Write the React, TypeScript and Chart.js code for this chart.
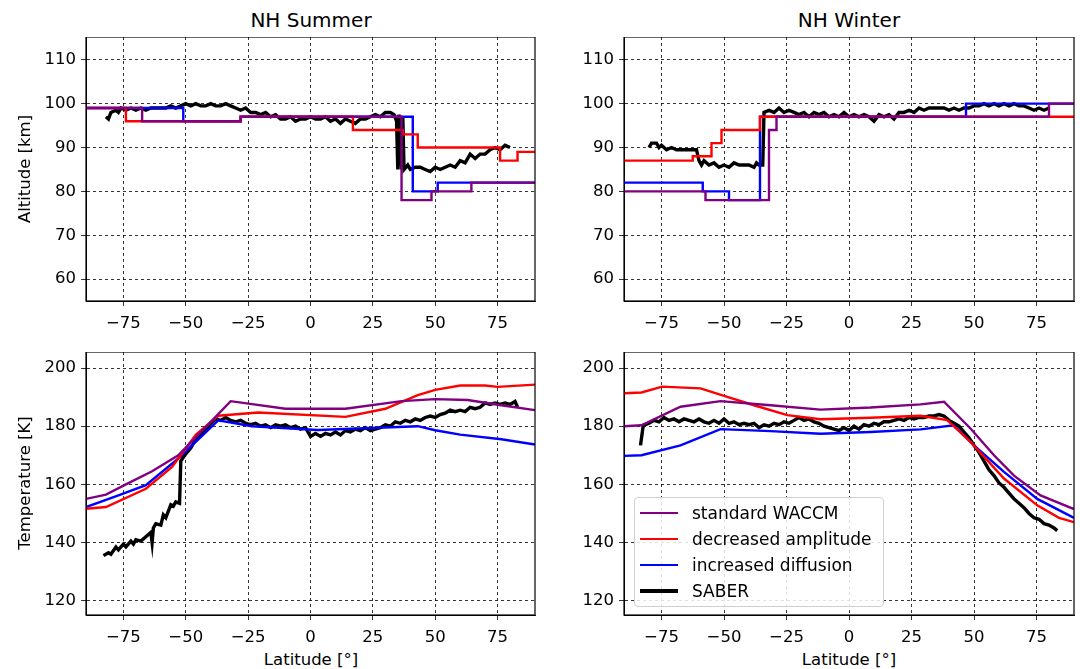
import React, { useEffect, useRef } from "react";
import { Chart, registerables } from "chart.js";
Chart.register(...registerables);

const LAT_TICKS = [-75, -50, -25, 0, 25, 50, 75];
const ALT_TICKS = [60, 70, 80, 90, 100, 110];
const TEMP_TICKS = [120, 140, 160, 180, 200];

// NH Summer altitude (step lines)
const sumAltStdLat = [-90, -67.5, -67.5, -28, -28, 36.5, 36.5, 48.5, 48.5, 64.5, 64.5, 90];
const sumAltStdVal = [99, 99, 96, 96, 97, 97, 78, 78, 80, 80, 82, 82];
const sumAltDecLat = [-90, -74, -74, -28, -28, 17, 17, 37, 37, 43, 43, 76, 76, 83, 83, 90];
const sumAltDecVal = [99, 99, 96, 96, 97, 97, 94, 94, 93, 93, 90, 90, 87, 87, 89, 89];
const sumAltIncLat = [-90, -51, -51, -28, -28, 41, 41, 51, 51, 90];
const sumAltIncVal = [99, 99, 96, 96, 97, 97, 80, 80, 82, 82];
const sumAltSabLat = [-82, -81, -80, -78, -77, -76, -74, -72, -70, -68, -66, -64, -62, -60, -58, -56, -54, -52, -50, -48, -46, -44, -42, -40, -38, -36, -34, -32, -30, -28, -26, -24, -22, -20, -18, -16, -14, -12, -10, -8, -6, -4, -2, 0, 2, 4, 6, 8, 10, 12, 14, 16, 18, 20, 22, 24, 26, 28, 30, 32, 33.5, 34.5, 35, 35.5, 36.5, 37, 37.5, 39, 40, 42, 44, 46, 48, 50, 52, 54, 56, 58, 60, 62, 64, 66, 68, 70, 72, 74, 76, 78, 80];
const sumAltSabVal = [97, 96.5, 98, 98.5, 98, 99, 98.5, 99, 98.5, 99, 98.5, 99, 99, 99, 99, 99.5, 99, 99.5, 100, 99.5, 100, 99.5, 99.5, 100, 99.5, 99.5, 100, 99.5, 99, 98.5, 99, 98, 98, 97.5, 98, 97, 97.5, 96.5, 96.5, 97, 96, 96.5, 96.5, 97, 96.5, 96.5, 97, 96, 96.5, 95.5, 96.5, 96, 95.5, 96.5, 96.5, 97, 97.5, 97, 98, 98, 97.5, 96, 85, 97.5, 85, 97, 85, 86, 85, 85.5, 85.5, 85, 84.5, 85.5, 85, 85.5, 86, 85.5, 87, 86.5, 88.5, 87.5, 88.5, 88.5, 89.5, 90, 89.5, 90.5, 90];

// NH Winter altitude
const winAltStdLat = [-90, -57.4, -57.4, -32, -32, -29, -29, 80, 80, 90];
const winAltStdVal = [80, 80, 78, 78, 94, 94, 97, 97, 100, 100];
const winAltDecLat = [-90, -62.5, -62.5, -55, -55, -51, -51, -35.6, -35.6, 90];
const winAltDecVal = [87, 87, 88, 88, 91, 91, 94, 94, 97, 97];
const winAltIncLat = [-90, -58.5, -58.5, -48, -48, -35.6, -35.6, 46.8, 46.8, 90];
const winAltIncVal = [82, 82, 80, 80, 78, 78, 97, 97, 100, 100];
const winAltSabLat = [-80, -79, -77, -76, -75, -73, -71, -69, -67, -65, -63, -61, -60, -59, -58, -56, -54, -52, -50, -48, -46, -44, -42, -40, -38, -37, -36, -34.5, -34, -32, -30, -28, -26, -24, -22, -20, -18, -16, -14, -12, -10, -8, -6, -4, -2, 0, 2, 4, 6, 8, 10, 12, 14, 16, 18, 20, 22, 24, 26, 28, 30, 32, 34, 36, 38, 40, 42, 44, 46, 48, 50, 52, 54, 56, 58, 60, 62, 64, 66, 68, 70, 72, 74, 76, 78, 80];
const winAltSabVal = [90, 91, 91, 90, 90.5, 89.5, 90, 89.5, 89.5, 89.5, 89.5, 89.5, 87, 86, 87, 86, 86.5, 85.5, 86, 85.5, 86.5, 86, 86, 86, 85.5, 86.5, 86, 86, 98, 98.5, 98, 99, 98, 98.5, 98, 97.5, 98, 97, 98, 97.5, 98, 97, 97.5, 97, 98, 97, 97.5, 97, 97.5, 97, 96, 97.5, 97, 97.5, 96.5, 98, 98, 98.5, 98, 99, 98.5, 99, 99, 99, 99, 98.5, 99, 98.5, 99, 99, 99.5, 99.5, 100, 99.5, 100, 99.5, 100, 99.5, 100, 99.5, 99.5, 99, 98.5, 99, 98.5, 99];

// NH Summer temperature
const sumTStdLat = [-90, -82, -74, -63.5, -53, -32, -10, 14, 36.5, 50, 63, 76.5, 90];
const sumTStdVal = [155, 156.5, 160, 164.5, 170, 188.6, 186, 186, 188.6, 189.3, 189, 187.2, 185.5];
const sumTDecLat = [-90, -82, -66, -55.5, -46, -37, -21, 14, 30, 43, 50, 60, 70, 75, 90];
const sumTDecVal = [151.6, 152.2, 158.5, 166, 177, 183.6, 184.7, 183.2, 186, 190.7, 192.5, 194, 194, 193.5, 194.3];
const sumTIncLat = [-90, -77, -66, -53, -37, -23.5, 3, 43, 50, 60, 76.5, 90];
const sumTIncVal = [152.2, 156.2, 159.7, 168.9, 182, 180, 178.7, 180, 178.6, 177.1, 175.5, 173.7];
const sumTSabLat = [-83, -81, -80, -78, -77, -75, -74, -72, -71, -70, -68, -66, -64, -63.5, -63, -62, -60, -59, -58, -56, -55, -54, -52.5, -52, -50, -48, -46, -44, -42, -40, -38, -36, -34, -32, -30, -28, -26, -24, -22, -20, -18, -16, -14, -12, -10, -8, -6, -4, -2, 0, 2, 4, 6, 8, 10, 12, 14, 16, 18, 20, 22, 24, 26, 28, 30, 32, 34, 36, 38, 40, 42, 44, 46, 48, 50, 52, 54, 56, 58, 60, 62, 64, 66, 68, 70, 72, 74, 76, 78, 80, 82, 83];
const sumTSabVal = [135.5, 136.5, 136, 138.5, 137.5, 139.5, 138.5, 140.5, 139.5, 141, 140.5, 142, 143.5, 140, 145, 146.5, 146, 149.5, 148.5, 153, 152.5, 154, 153.5, 168, 170.5, 172.5, 175.5, 177, 179, 181, 182.5, 182, 183, 182, 181.5, 182, 181, 180.5, 181, 180, 180.5, 179.5, 180.5, 180, 180.5, 179.5, 180, 179, 179.5, 176.5, 177.5, 176.5, 177.5, 177, 178, 177, 178.5, 178, 179, 178.5, 179.5, 178.5, 179, 179.5, 180.5, 180, 181.5, 181, 182, 181.5, 182.5, 182, 183, 183.5, 183, 184, 184.5, 185.5, 185, 185.5, 185, 186.5, 186, 186.5, 188, 187.5, 188, 187.5, 188, 187.5, 188.5, 186.5];

// NH Winter temperature
const winTStdLat = [-90, -83, -67.4, -51.4, -31.4, -11.4, 8.6, 28.6, 38, 48.6, 58, 66, 76.6, 90];
const winTStdVal = [180, 180.3, 186.7, 188.6, 187.2, 185.7, 186.4, 187.5, 188.4, 179.2, 170, 163, 156.2, 151.5];
const winTDecLat = [-90, -83, -74.7, -59.4, -48.7, -38, -24.7, -11.4, 8.6, 28.6, 39.3, 48.6, 62, 75.3, 84, 90];
const winTDecVal = [191.3, 191.6, 193.6, 193, 190.1, 187.2, 183.8, 182.4, 182.9, 183.6, 182.1, 174.6, 162, 152.8, 148.5, 147];
const winTIncLat = [-90, -83, -67.4, -51.4, -31.4, -11.4, 8.6, 28.6, 41.9, 50, 62, 75.3, 90];
const winTIncVal = [169.8, 170, 173.4, 179, 178.3, 177.4, 178, 178.9, 180.3, 173.4, 164.3, 155, 148.5];
const winTSabLat = [-83.4, -82.3, -80, -78, -76, -74, -72, -70, -68, -66, -64, -62, -60, -58, -56, -54, -52, -50, -48, -46, -44, -42, -40, -38, -36, -34, -32, -30, -28, -26, -24, -22, -20, -18, -16, -14, -12, -10, -8, -6, -4, -2, 0, 2, 4, 6, 8, 10, 12, 14, 16, 18, 20, 22, 24, 26, 28, 30, 32, 34, 36, 38, 40, 42, 44, 46, 48, 50, 52, 54, 56, 58, 60, 62, 64, 66, 68, 70, 72, 74, 76, 78, 80, 82, 83.3];
const winTSabVal = [173.4, 180.3, 181, 182, 181.5, 183, 182, 182.5, 181.5, 182.5, 182, 181.5, 182.5, 181.5, 181, 182, 181, 182.5, 181, 181.5, 180.5, 181, 180.5, 181, 179.5, 180.5, 180, 181, 180.5, 181.5, 181, 182, 183, 182, 182.5, 181.5, 181, 180, 179.5, 179, 178.5, 179.5, 178.5, 180, 179, 180.5, 180, 181, 180.5, 181.5, 181.5, 182, 182.5, 182, 183, 182.5, 183, 183, 183.5, 183.5, 184, 183.5, 182, 181, 180, 178, 176, 173.4, 171, 168, 165, 163, 160.5, 159, 157, 155, 153.5, 152, 150, 148.5, 148, 146.5, 146, 145, 144.1];

const STD = "#800080";
const DEC = "#ff0000";
const INC = "#0000ff";
const SAB = "#000000";
const FONT = "'DejaVu Sans', sans-serif";

const pts = (xs: number[], ys: number[]) => xs.map((x, i) => ({ x, y: ys[i] }));

const framePlugin = {
  id: "frame",
  afterDraw(chart: any) {
    const { ctx, chartArea: a } = chart;
    ctx.save();
    ctx.strokeStyle = "#000";
    ctx.lineWidth = 1.2;
    ctx.setLineDash([]);
    ctx.strokeRect(a.left, a.top, a.right - a.left, a.bottom - a.top);
    ctx.restore();
  },
};

type Panel = {
  series: { lat: number[]; val: number[]; color: string; width: number }[];
  yMin: number;
  yMax: number;
  yTicks: number[];
  yWidth: number;
  xHeight: number;
  padRight: number;
};

function ChartPanel({ p, style }: { p: Panel; style: React.CSSProperties }) {
  const ref = useRef<HTMLCanvasElement>(null);
  useEffect(() => {
    const tickFont = { family: FONT, size: 16.5 };
    const grid = { color: "#000", lineWidth: 0.8, tickColor: "#000", tickLength: 5, drawOnChartArea: true };
    const chart = new Chart(ref.current!, {
      type: "line",
      data: {
        datasets: p.series.map((s) => ({
          data: pts(s.lat, s.val),
          borderColor: s.color,
          borderWidth: s.width,
          pointRadius: 0,
          tension: 0,
          fill: false,
        })),
      },
      options: {
        animation: false,
        responsive: false,
        parsing: false as any,
        layout: { padding: { right: p.padRight, top: 0, left: 0, bottom: 0 } },
        plugins: { legend: { display: false }, tooltip: { enabled: false } },
        scales: {
          x: {
            type: "linear",
            min: -90,
            max: 90,
            grid,
            border: { dash: [3, 3], color: "#000" },
            ticks: { color: "#000", font: tickFont, padding: 8, maxRotation: 0, callback: (v: any) => (v < 0 ? "\u2212" + Math.abs(v) : String(v)) },
            afterBuildTicks: (s: any) => { s.ticks = LAT_TICKS.map((v) => ({ value: v })); },
            afterFit: (s: any) => { s.height = p.xHeight; s.paddingLeft = 0; s.paddingRight = 0; },
          },
          y: {
            type: "linear",
            min: p.yMin,
            max: p.yMax,
            grid,
            border: { dash: [3, 3], color: "#000" },
            ticks: { color: "#000", font: tickFont, padding: 5 },
            afterBuildTicks: (s: any) => { s.ticks = p.yTicks.map((v) => ({ value: v })); },
            afterFit: (s: any) => { s.width = p.yWidth; s.paddingTop = 0; s.paddingBottom = 0; },
          },
        },
      } as any,
      plugins: [framePlugin],
    });
    return () => chart.destroy();
  }, []);
  const w = style.width as number;
  const h = style.height as number;
  return <canvas ref={ref} width={w} height={h} style={{ position: "absolute", ...style }} />;
}

export default function App() {
  const altCommon = { yMin: 55, yMax: 115.2, yTicks: ALT_TICKS, xHeight: 30 };
  const tCommon = { yMin: 115.1, yMax: 205.5, yTicks: TEMP_TICKS, xHeight: 30 };
  const M = 2.4;
  const S = 3.4;
  const tl: Panel = {
    ...altCommon, yWidth: 86, padRight: 10,
    series: [
      { lat: sumAltStdLat, val: sumAltStdVal, color: STD, width: M },
      { lat: sumAltDecLat, val: sumAltDecVal, color: DEC, width: M },
      { lat: sumAltIncLat, val: sumAltIncVal, color: INC, width: M },
      { lat: sumAltSabLat, val: sumAltSabVal, color: SAB, width: S },
    ],
  };
  const tr: Panel = {
    ...altCommon, yWidth: 84, padRight: 6,
    series: [
      { lat: winAltStdLat, val: winAltStdVal, color: STD, width: M },
      { lat: winAltDecLat, val: winAltDecVal, color: DEC, width: M },
      { lat: winAltIncLat, val: winAltIncVal, color: INC, width: M },
      { lat: winAltSabLat, val: winAltSabVal, color: SAB, width: S },
    ],
  };
  const bl: Panel = {
    ...tCommon, yWidth: 86, padRight: 10,
    series: [
      { lat: sumTStdLat, val: sumTStdVal, color: STD, width: M },
      { lat: sumTDecLat, val: sumTDecVal, color: DEC, width: M },
      { lat: sumTIncLat, val: sumTIncVal, color: INC, width: M },
      { lat: sumTSabLat, val: sumTSabVal, color: SAB, width: S },
    ],
  };
  const br: Panel = {
    ...tCommon, yWidth: 84, padRight: 6,
    series: [
      { lat: winTStdLat, val: winTStdVal, color: STD, width: M },
      { lat: winTDecLat, val: winTDecVal, color: DEC, width: M },
      { lat: winTIncLat, val: winTIncVal, color: INC, width: M },
      { lat: winTSabLat, val: winTSabVal, color: SAB, width: S },
    ],
  };
  const txt: React.CSSProperties = { position: "absolute", fontFamily: FONT, color: "#000", whiteSpace: "nowrap" };
  const legendItems = [
    { label: "standard WACCM", color: STD, w: 2.5 },
    { label: "decreased amplitude", color: DEC, w: 2.5 },
    { label: "increased diffusion", color: INC, w: 2.5 },
    { label: "SABER", color: SAB, w: 3.5 },
  ];
  return (
    <div style={{ position: "fixed", left: 0, top: 0, width: 1080, height: 669, background: "#fff", overflow: "hidden" }}>
      <ChartPanel p={tl} style={{ left: 0, top: 37, width: 545, height: 294 }} />
      <ChartPanel p={tr} style={{ left: 540, top: 37, width: 540, height: 294 }} />
      <ChartPanel p={bl} style={{ left: 0, top: 352, width: 545, height: 293 }} />
      <ChartPanel p={br} style={{ left: 540, top: 352, width: 540, height: 293 }} />
      <div style={{ ...txt, left: 311, top: 20, transform: "translate(-50%,-50%)", fontSize: 20 }}>NH Summer</div>
      <div style={{ ...txt, left: 849, top: 20, transform: "translate(-50%,-50%)", fontSize: 20 }}>NH Winter</div>
      <div style={{ ...txt, left: 24, top: 169, transform: "translate(-50%,-50%) rotate(-90deg)", fontSize: 16.5 }}>Altitude [km]</div>
      <div style={{ ...txt, left: 24, top: 483, transform: "translate(-50%,-50%) rotate(-90deg)", fontSize: 16.5 }}>Temperature [K]</div>
      <div style={{ ...txt, left: 311, top: 659, transform: "translate(-50%,-50%)", fontSize: 16.5 }}>Latitude [°]</div>
      <div style={{ ...txt, left: 849, top: 659, transform: "translate(-50%,-50%)", fontSize: 16.5 }}>Latitude [°]</div>
      <div style={{ position: "absolute", left: 634, top: 497, width: 250, height: 110, boxSizing: "border-box", border: "1px solid #d0d0d0", borderRadius: 4, background: "rgba(255,255,255,0.85)" }}>
        {legendItems.map((it, i) => (
          <div key={i} style={{ position: "absolute", left: 5, top: 5 + i * 26, height: 20, display: "flex", alignItems: "center", whiteSpace: "nowrap" }}>
            <div style={{ width: 38, height: it.w, background: it.color }} />
            <span style={{ fontFamily: FONT, fontSize: 17, marginLeft: 14, color: "#000", whiteSpace: "nowrap" }}>{it.label}</span>
          </div>
        ))}
      </div>
    </div>
  );
}
